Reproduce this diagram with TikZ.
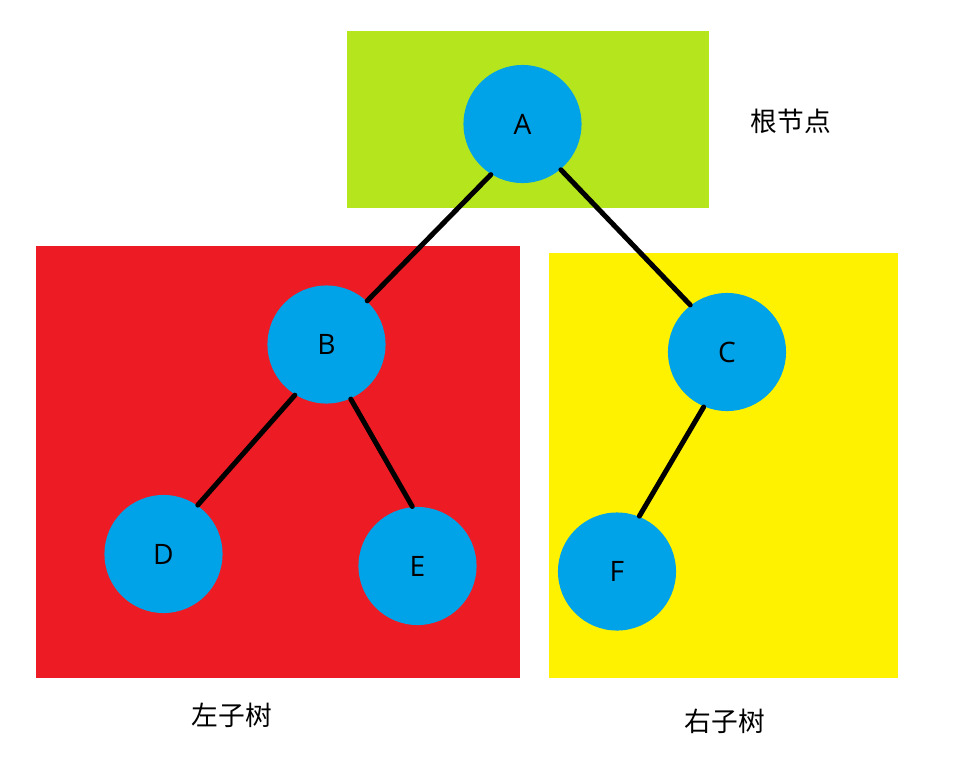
\documentclass[tikz,border=0pt]{standalone}
\usepackage{fontspec}
\setmainfont{Open Sans}
\newfontfamily\cjk{Noto Sans CJK SC}

\definecolor{paintgreen}{HTML}{B5E61D}
\definecolor{paintred}{HTML}{ED1C24}
\definecolor{paintyellow}{HTML}{FFF200}
\definecolor{paintblue}{HTML}{00A2E8}

\begin{document}
\begin{tikzpicture}[x=0.01cm,y=-0.01cm,
    vertex/.style={circle,fill=paintblue,minimum size=1.18cm,inner sep=0pt,
        font=\fontsize{8}{9}\selectfont},
    edge/.style={line width=0.05cm,line cap=round},
    caption/.style={font=\cjk\fontsize{7.6}{9}\selectfont}]
    \useasboundingbox (0,0) rectangle (975,760);
    % coloured regions behind the tree
    \fill[paintgreen]  (347,31)  rectangle (709,208);
    \fill[paintred]    (36,246)  rectangle (520,678);
    \fill[paintyellow] (549,253) rectangle (898,678);
    % the tree
    \node[vertex] (A) at (522.5,124) {A};
    \node[vertex] (B) at (326.5,344.5) {B};
    \node[vertex] (C) at (727,352) {C};
    \node[vertex] (D) at (163.5,554) {D};
    \node[vertex] (E) at (417.5,566) {E};
    \node[vertex] (F) at (617,571.5) {F};
    \draw[edge] (A.238) -- (B.47);
    \draw[edge] (A.310) -- (C.128);
    \draw[edge] (B.238) -- (D.55);
    \draw[edge] (B.294) -- (E.95);
    \draw[edge] (C.247) -- (F.68);
    % captions
    \node[caption] (rootlabel)  at (791,121) {根节点};
    \node[caption] (leftlabel)  at (232,715) {左子树};
    \node[caption] (rightlabel) at (725,721) {右子树};
\end{tikzpicture}
\end{document}
